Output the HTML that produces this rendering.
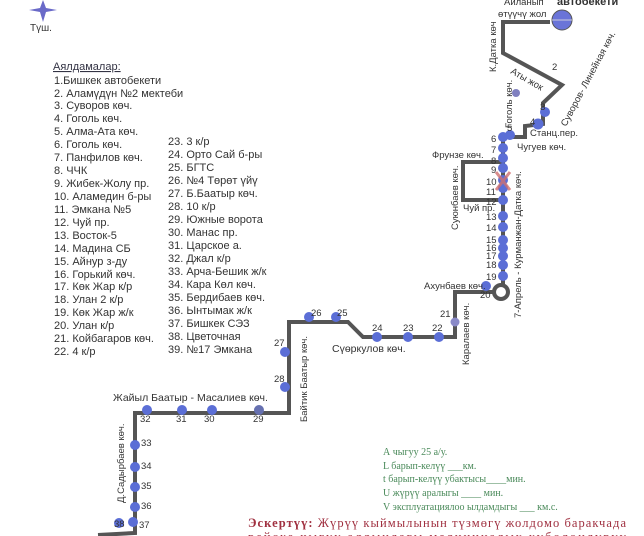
<!DOCTYPE html>
<html><head><meta charset="utf-8"><style>
body{margin:0;background:#fff;width:644px;height:536px;overflow:hidden;font-family:"Liberation Sans",sans-serif}
svg{position:absolute;left:0;top:0}
</style></head><body>
<svg width="644" height="536" viewBox="0 0 644 536" font-family="Liberation Sans, sans-serif">
<path d="M43,0 L46,8 L57,10 L46,12 L43,22 L40,12 L29,10 L40,8Z" fill="#6a6ac8"/>
<text x="30" y="31" font-size="10" fill="#333">Түш.</text>
<g font-size="11" fill="#333">
<text x="53" y="70" fill="#334" text-decoration="underline">Аялдамалар:</text>
<text x="54" y="84">1.Бишкек автобекети</text>
<text x="54" y="97">2. Аламүдүн №2 мектеби</text>
<text x="54" y="109">3. Суворов көч.</text>
<text x="54" y="122">4. Гоголь көч.</text>
<text x="54" y="135">5. Алма-Ата көч.</text>
<text x="54" y="148">6. Гоголь көч.</text>
<text x="54" y="161">7. Панфилов көч.</text>
<text x="54" y="174">8. ЧЧК</text>
<text x="54" y="187">9. Жибек-Жолу пр.</text>
<text x="54" y="200">10. Аламедин б-ры</text>
<text x="54" y="213">11. Эмкана №5</text>
<text x="54" y="226">12. Чуй пр.</text>
<text x="54" y="239">13. Восток-5</text>
<text x="54" y="252">14. Мадина СБ</text>
<text x="54" y="265">15. Айнур з-ду</text>
<text x="54" y="278">16. Горький көч.</text>
<text x="54" y="290">17. Көк Жар к/р</text>
<text x="54" y="303">18. Улан 2 к/р</text>
<text x="54" y="316">19. Көк Жар ж/к</text>
<text x="54" y="329">20. Улан к/р</text>
<text x="54" y="342">21. Койбагаров көч.</text>
<text x="54" y="355">22. 4 к/р</text>
<text x="168" y="145">23. 3 к/р</text>
<text x="168" y="158">24. Орто Сай б-ры</text>
<text x="168" y="171">25. БГТС</text>
<text x="168" y="184">26. №4 Төрөт үйү</text>
<text x="168" y="197">27. Б.Баатыр көч.</text>
<text x="168" y="210">28. 10 к/р</text>
<text x="168" y="223">29. Южные ворота</text>
<text x="168" y="236">30. Манас пр.</text>
<text x="168" y="249">31. Царское а.</text>
<text x="168" y="262">32. Джал к/р</text>
<text x="168" y="275">33. Арча-Бешик ж/к</text>
<text x="168" y="288">34. Кара Көл көч.</text>
<text x="168" y="301">35. Бердибаев көч.</text>
<text x="168" y="314">36. Ынтымак ж/к</text>
<text x="168" y="327">37. Бишкек СЭЗ</text>
<text x="168" y="340">38. Цветочная</text>
<text x="168" y="353">39. №17 Эмкана</text>
</g>
<g fill="none" stroke="#555" stroke-width="4" stroke-linejoin="miter">
<polyline points="550,22 503,22 503,53 562,85 543,103 543,124 525,126 525,137 503,137 503,292"/>
<polyline points="503,162 463,162 463,200 503,200"/>
<polyline points="500,292 455,292 455,337 363,337 348,322 289,322 289,413 135,413 135,533 98,535"/>
</g>
<circle cx="562" cy="20" r="10" fill="#6a74d8" stroke="#555"/>
<line x1="552" y1="20" x2="572" y2="20" stroke="#ccd" stroke-width="1"/>
<circle cx="501" cy="292" r="7" fill="#fff" stroke="#555" stroke-width="4"/>
<g fill="#5b6ed6">
<circle cx="516" cy="93" r="4" fill="#8080c0"/>
<circle cx="545" cy="112" r="5"/><circle cx="538" cy="124" r="5.5"/>
<circle cx="510" cy="135" r="5"/><circle cx="503" cy="137" r="5"/>
<circle cx="503" cy="148" r="5"/><circle cx="503" cy="158" r="5"/><circle cx="503" cy="168" r="5"/>
<circle cx="503" cy="180" r="5"/><circle cx="503" cy="188" r="5"/><circle cx="503" cy="200" r="5"/>
<circle cx="503" cy="216" r="5"/><circle cx="503" cy="227" r="5"/><circle cx="503" cy="240" r="5"/>
<circle cx="503" cy="248" r="5"/><circle cx="503" cy="256" r="5"/><circle cx="503" cy="265" r="5"/><circle cx="503" cy="276" r="5"/>
<circle cx="486" cy="286" r="5"/><circle cx="455" cy="322" r="4.5" fill="#8a8ac8"/>
<circle cx="439" cy="337" r="5"/><circle cx="408" cy="337" r="5"/><circle cx="377" cy="337" r="5"/>
<circle cx="336" cy="317" r="5"/><circle cx="309" cy="317" r="5"/>
<circle cx="285" cy="352" r="5"/><circle cx="285" cy="387" r="5"/>
<circle cx="259" cy="410" r="5" fill="#6670b0"/><circle cx="212" cy="410" r="5"/><circle cx="182" cy="410" r="5"/><circle cx="147" cy="410" r="5"/>
<circle cx="135" cy="445" r="5"/><circle cx="135" cy="467" r="5"/><circle cx="135" cy="487" r="5"/><circle cx="135" cy="507" r="5"/><circle cx="133" cy="522" r="5"/><circle cx="119" cy="523" r="5"/>
</g>
<path d="M496,172 L510,190 M510,172 L496,190" stroke="#d07070" stroke-width="3" opacity="0.8"/>
<g font-size="9.5" fill="#333">
<text x="504" y="5">Айланып</text>
<text x="498" y="17">өтүүчү жол</text>
<text x="557" y="5" font-weight="bold" font-size="11">автобекети</text>
<text x="552" y="70">2</text>
<text x="540" y="110">3</text><text x="530" y="125">4</text><text x="507" y="131">5</text>
<text x="491" y="142">6</text><text x="491" y="153">7</text><text x="491" y="164">8</text><text x="491" y="173">9</text>
<text x="486" y="185">10</text><text x="486" y="195">11</text><text x="486" y="205">12</text><text x="486" y="220">13</text>
<text x="486" y="231">14</text><text x="486" y="243">15</text><text x="486" y="251">16</text><text x="486" y="259">17</text>
<text x="486" y="268">18</text><text x="486" y="280">19</text><text x="480" y="298">20</text>
<text x="440" y="317">21</text><text x="432" y="331">22</text><text x="403" y="331">23</text><text x="372" y="331">24</text>
<text x="337" y="316">25</text><text x="311" y="316">26</text><text x="274" y="346">27</text><text x="274" y="382">28</text>
<text x="253" y="422">29</text><text x="204" y="422">30</text><text x="176" y="422">31</text><text x="140" y="422">32</text>
<text x="141" y="446">33</text><text x="141" y="469">34</text><text x="141" y="489">35</text><text x="141" y="509">36</text>
<text x="139" y="528">37</text><text x="114" y="527">38</text>
<text x="530" y="136">Станц.пер.</text>
<text x="517" y="150">Чугуев көч.</text>
<text x="432" y="158">Фрунзе көч.</text>
<text x="463" y="211">Чуй пр.</text>
<text x="424" y="289">Ахунбаев көч.</text>
<text x="332" y="352" font-size="10.5">Сүөркулов көч.</text>
<text x="113" y="401" font-size="10.5">Жайыл Баатыр  - Масалиев көч.</text>
<text transform="translate(496,72) rotate(-90)">К.Датка көч</text>
<text transform="translate(510,73) rotate(30)">Аты жок</text>
<text transform="translate(512,128) rotate(-90)">Гоголь көч.</text>
<text transform="translate(566,127) rotate(-62)">Суворов- Линейная көч.</text>
<text transform="translate(458,230) rotate(-90)">Суюнбаев көч.</text>
<text transform="translate(521,318) rotate(-90)">7-Апрель - Курманжан-Датка көч.</text>
<text transform="translate(469,365) rotate(-90)">Каралаев көч.</text>
<text transform="translate(307,422) rotate(-90)">Байтик Баатыр көч.</text>
<text transform="translate(124,503) rotate(-90)">Д.Садырбаев көч.</text>
</g>
<g font-family="Liberation Serif, serif" font-size="10" fill="#4a8a5a">
<text x="383" y="455">А чыгуу   25   а/у.</text>
<text x="383" y="469">L барып-келүү  ___км.</text>
<text x="383" y="482">t барып-келүү убактысы____мин.</text>
<text x="383" y="496">U жүрүү аралыгы ____     мин.</text>
<text x="383" y="510">V эксплуатациялоо ылдамдыгы ___ км.с.</text>
</g>
<text x="248" y="527" font-family="Liberation Serif, serif" font-size="12.5" fill="#a03040" textLength="378" lengthAdjust="spacing"><tspan font-weight="bold">Эскертүү:</tspan> Жүрүү  кыймылынын  түзмөгү  жолдомо  баракчада</text>
<text x="248" y="541" font-family="Liberation Serif, serif" font-size="12.5" fill="#a03040" textLength="378" lengthAdjust="spacing">рейске  чыгуу  алдындагы  медициналык  күбөлөндүрүү</text>
</svg>
</body></html>
